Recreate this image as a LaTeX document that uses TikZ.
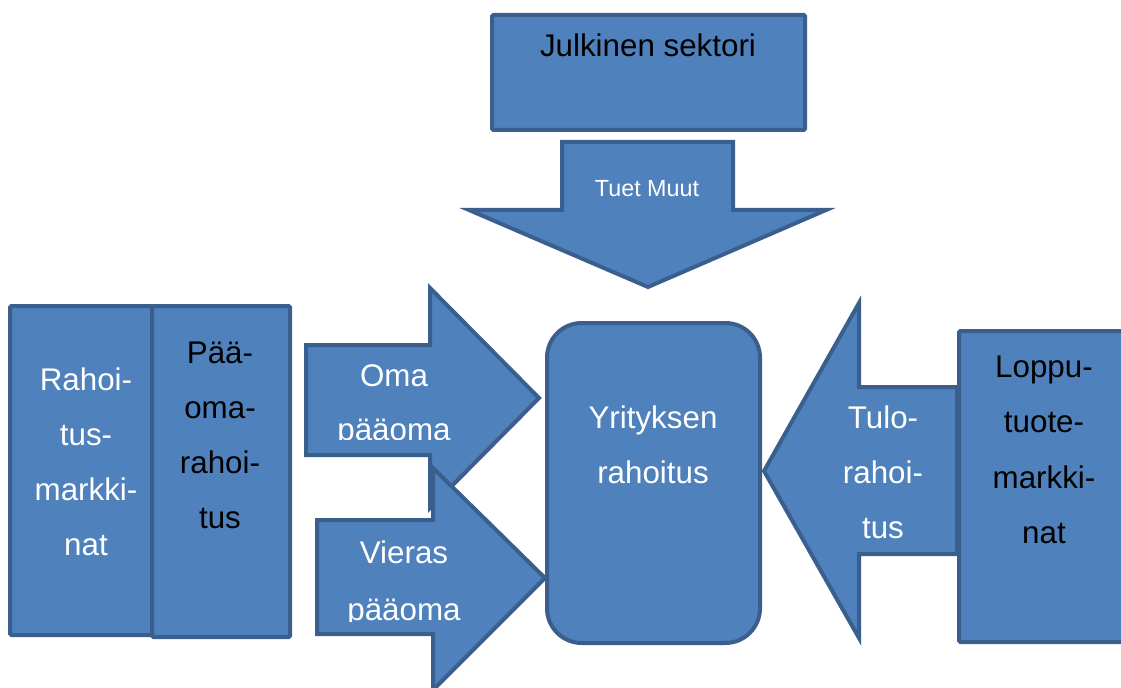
\documentclass[tikz,border=0pt]{standalone}
\usepackage{fontspec}
\setmainfont{Liberation Sans}
\definecolor{fillb}{HTML}{4F81BD}
\definecolor{edgeb}{HTML}{3A5F8D}
\begin{document}
\begin{tikzpicture}[x=0.75pt,y=-0.75pt,
  blk/.style={fill=fillb,draw=edgeb,line width=3pt},
  big/.style={font=\fontsize{23.5}{28}\selectfont,inner sep=0pt,anchor=base},
  small/.style={font=\fontsize{17.5}{21}\selectfont,inner sep=0pt,anchor=base},
  wt/.style={text=white}, bk/.style={text=black}]
\useasboundingbox (0,0) rectangle (1121,688);

% left boxes
\draw[blk,rounded corners=1pt] (10,306) rectangle (152,635);
\draw[blk,rounded corners=1pt] (152,306) rectangle (290,637);
\node[big,wt] (ra1) at (86,390) {Rahoi-};
\node[big,wt] (ra2) at (86,445) {tus-};
\node[big,wt] (ra3) at (86,500) {markki-};
\node[big,wt] (ra4) at (86,555) {nat};
\node[big,bk] (pa1) at (220,363) {Pää-};
\node[big,bk] (pa2) at (220,418) {oma-};
\node[big,bk] (pa3) at (220,473) {rahoi-};
\node[big,bk] (pa4) at (220,528) {tus};

% Oma paaoma arrow
\draw[blk] (306,345) -- (430,345) -- (430,288) -- (539,398) -- (430,508) -- (430,455) -- (306,455) -- cycle;
\begin{scope}
\clip (306,345) rectangle (540,439);
\node[big,wt] (om1) at (394,386) {Oma};
\node[big,wt] (om2) at (394,440) {pääoma};
\end{scope}

% Vieras paaoma arrow
\draw[blk] (317,520) -- (433,520) -- (433,468) -- (545,578) -- (433,690) -- (433,634) -- (317,634) -- cycle;
\begin{scope}
\clip (317,520) rectangle (545,621);
\node[big,wt] (vi1) at (404,563) {Vieras};
\node[big,wt] (vi2) at (404,620) {pääoma};
\end{scope}

% central rounded box
\draw[blk,rounded corners=26pt] (547,323) rectangle (760,643);
\node[big,wt] (yr1) at (653,428) {Yrityksen};
\node[big,wt] (yr2) at (653,483) {rahoitus};

% Tulorahoitus arrow
\draw[blk] (957,387) -- (859,387) -- (859,303) -- (764,471) -- (859,638) -- (859,554) -- (957,554) -- cycle;
\node[big,wt] (tu1) at (883,428) {Tulo-};
\node[big,wt] (tu2) at (883,483) {rahoi-};
\node[big,wt] (tu3) at (883,538) {tus};

% Lopputuotemarkkinat box
\draw[blk,rounded corners=1pt] (959,331) rectangle (1135,642);
\node[big,bk] (lo1) at (1044,377) {Loppu-};
\node[big,bk] (lo2) at (1044,432) {tuote-};
\node[big,bk] (lo3) at (1044,488) {markki-};
\node[big,bk] (lo4) at (1044,543) {nat};

% Julkinen sektori
\draw[blk,rounded corners=1pt] (492,15) rectangle (805,130);
\node[big,bk] (ju) at (648,57) {Julkinen sektori};

% down arrow
\draw[blk] (562,142) -- (733,142) -- (733,210) -- (826,210) -- (648,287) -- (469,210) -- (562,210) -- cycle;
\node[small,wt] (tm) at (647,197) {Tuet Muut};
\end{tikzpicture}
\end{document}
